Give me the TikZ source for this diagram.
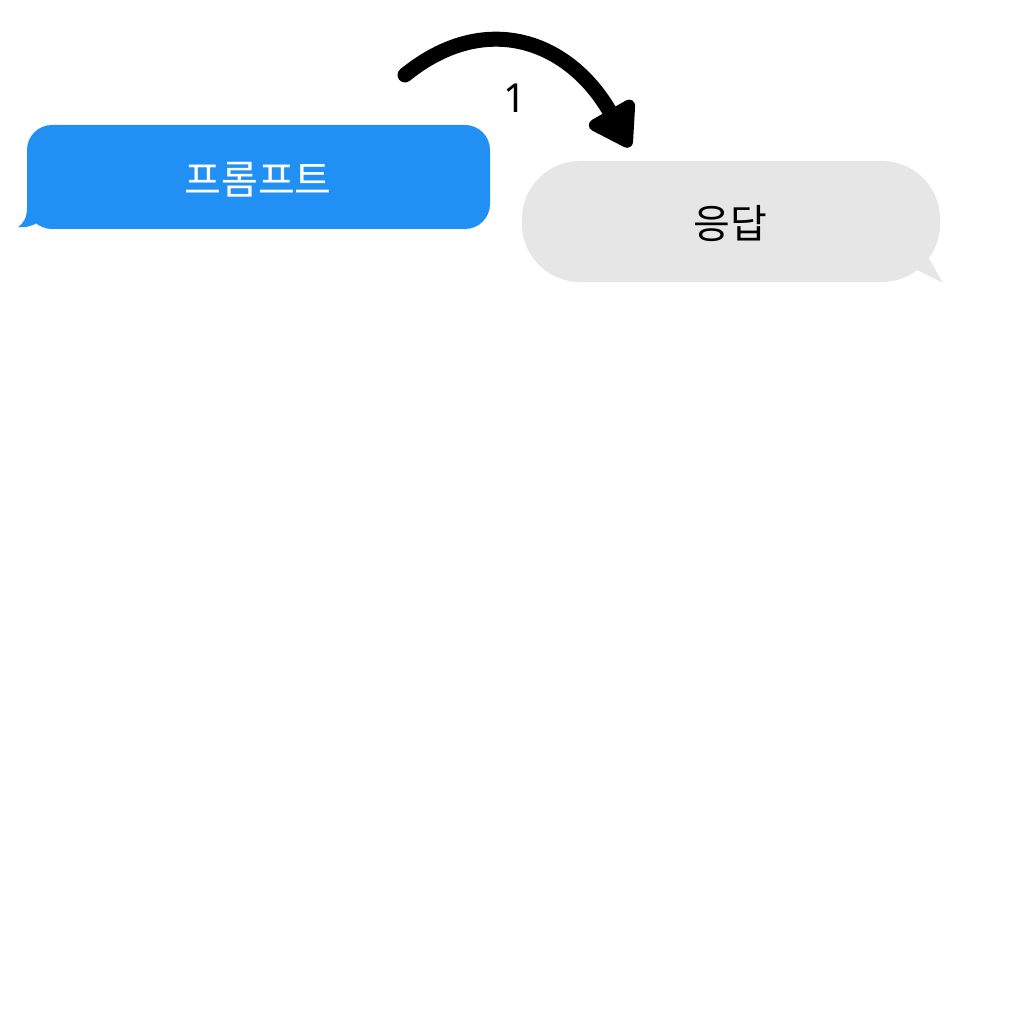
\documentclass[tikz,border=0pt]{standalone}
\usepackage{fontspec}
\setmainfont{Noto Sans CJK KR}
\newfontfamily\digitfont{Noto Sans}
\usetikzlibrary{arrows.meta}
\definecolor{promptblue}{HTML}{2190F5}
\definecolor{replygray}{HTML}{E6E6E6}
\begin{document}
\begin{tikzpicture}[x=1pt, y=-1pt, font=\fontsize{40}{46}\selectfont]
    \useasboundingbox[fill=white] (0,0) rectangle (1024,1024);
    \fill[promptblue, rounded corners=25] (27,125) rectangle (490,229);
    \fill[promptblue] (27,195) -- (27,208) .. controls (27,218) and (23,224) .. (18,227) .. controls (27,228) and (34,225) .. (39,222) -- (45,195) -- cycle;
    \node (prompt) at (258,180) [white] {프롬프트};
    \fill[replygray, rounded corners=58] (522,161) rectangle (940,282);
    \fill[replygray] (928,257) -- (943,283) -- (917,270) -- (900,240) -- cycle;
    \node (reply) at (730,224) {응답};
    \coordinate (start) at (405,75);
    \coordinate (end) at (630,147);
    \draw[line width=15, line cap=round, -{Triangle[length=48pt, width=58pt, round]}] (start) .. controls (485,10) and (569,40) .. (end);
    \node (one) at (515,98) {\digitfont 1};
\end{tikzpicture}
\end{document}
